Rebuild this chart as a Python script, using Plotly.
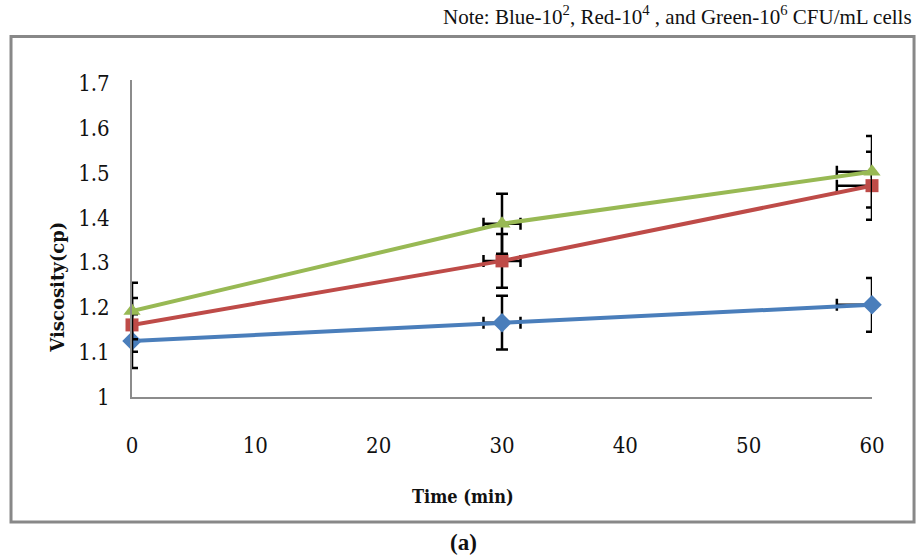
import plotly.graph_objects as go

# Sampling times (min)
time_min = [0, 30, 60]

# Mean viscosity (cp) for each inoculum level
visc_blue = [1.125, 1.166, 1.206]   # 10^2 CFU/mL
visc_red = [1.161, 1.304, 1.472]    # 10^4 CFU/mL
visc_green = [1.192, 1.387, 1.503]  # 10^6 CFU/mL

# Vertical error (cp)
err_blue = [0.06, 0.06, 0.06]
err_red = [0.06, 0.06, 0.076]
err_green = [0.063, 0.067, 0.08]

# Horizontal error (min): plus / minus
xerr_plus = [0, 1.5, 0]
xerr_minus = [0, 1.5, 2.85]

x_ticks = [0, 10, 20, 30, 40, 50, 60]
y_ticks = [1, 1.1, 1.2, 1.3, 1.4, 1.5, 1.6, 1.7]
y_tick_text = ["1", "1.1", "1.2", "1.3", "1.4", "1.5", "1.6", "1.7"]

series = [
    ("Blue", visc_blue, err_blue, "#4a7ebb", "diamond", 15),
    ("Red", visc_red, err_red, "#be4b48", "square", 13),
    ("Green", visc_green, err_green, "#98b954", "triangle-up", 15),
]

fig = go.Figure()
for name, vals, err, color, symbol, msize in series:
    fig.add_trace(go.Scatter(
        x=time_min, y=vals, name=name, mode="lines+markers",
        line=dict(color=color, width=4),
        marker=dict(color=color, symbol=symbol, size=msize),
        error_y=dict(type="data", array=err, visible=True,
                     color="black", thickness=2.5, width=6),
        error_x=dict(type="data", array=xerr_plus, arrayminus=xerr_minus,
                     visible=True, color="black", thickness=2.5, width=6),
        cliponaxis=False,
        showlegend=False,
    ))

tick_font = dict(family="DejaVu Serif Condensed, DejaVu Serif", size=22, color="#111")

fig.update_layout(
    width=917, height=560,
    margin=dict(l=132, r=45, t=80, b=163),
    paper_bgcolor="white", plot_bgcolor="white",
    xaxis=dict(range=[0, 60], tickvals=x_ticks, showgrid=False, zeroline=False,
               showline=True, linecolor="#8c8c8c", linewidth=2,
               ticks="", tickfont=tick_font, ticklabelstandoff=28),
    yaxis=dict(range=[1, 1.708], tickvals=y_ticks, ticktext=y_tick_text,
               showgrid=False, zeroline=False,
               showline=True, linecolor="#8c8c8c", linewidth=2,
               ticks="", tickfont=tick_font, ticklabelstandoff=16),
    shapes=[dict(type="rect", xref="paper", yref="paper",
                 x0=-0.1635, x1=1.0568, y0=-0.394, y1=1.137,
                 line=dict(color="#888888", width=3))],
    annotations=[
        dict(text="<b>Viscosity(cp)</b>", xref="paper", yref="paper",
             x=-0.1000, y=0.345, xanchor="center", yanchor="middle",
             textangle=-90, showarrow=False,
             font=dict(family="DejaVu Serif", size=18, color="#111")),
        dict(text="<b>Time (min)</b>", xref="paper", yref="paper",
             x=0.4473, y=-0.315, xanchor="center", yanchor="middle",
             showarrow=False,
             font=dict(family="DejaVu Serif Condensed, DejaVu Serif", size=18, color="#111")),
        dict(text="<b>(a)</b>", xref="paper", yref="paper",
             x=0.4473, y=-0.460, xanchor="center", yanchor="middle",
             showarrow=False,
             font=dict(family="Liberation Serif", size=23, color="#111")),
        dict(text="Note: Blue-10<sup>2</sup>, Red-10<sup>4</sup> , and Green-10<sup>6</sup> CFU/mL cells",
             xref="paper", yref="paper", x=1.0568, y=1.205,
             xanchor="right", yanchor="middle", showarrow=False,
             font=dict(family="Liberation Serif", size=21, color="#111")),
    ],
)

fig.write_html("out.html")
